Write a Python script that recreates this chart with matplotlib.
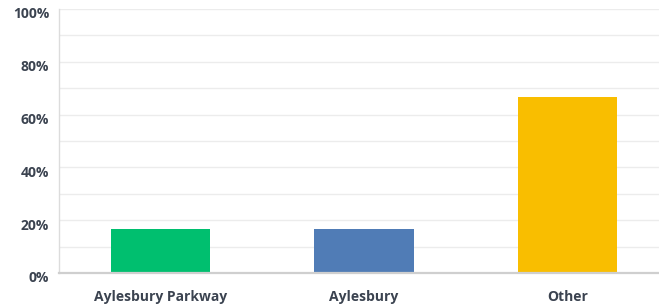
import matplotlib.pyplot as plt
import matplotlib.transforms as mtransforms
from matplotlib.ticker import MultipleLocator, FuncFormatter

categories = ['Aylesbury Parkway', 'Aylesbury', 'Other']
shares = [16.67, 16.67, 66.67]
colors = ['#00bf6f', '#507cb6', '#f9be00']
y_ticks = [0, 20, 40, 60, 80, 100]

plt.rcParams['font.family'] = ['Open Sans', 'DejaVu Sans']

fig = plt.figure(figsize=(6.59, 3.07), dpi=100)
ax = fig.add_axes([59 / 659, 34 / 307, 610 / 659, 264 / 307])

x = range(len(categories))
ax.bar(x, shares, width=0.49, color=colors, zorder=3)

ax.set_xlim(-0.5, len(categories) - 0.5)
ax.set_ylim(0, 100)
ax.set_yticks(y_ticks)
ax.yaxis.set_minor_locator(MultipleLocator(10))
ax.yaxis.set_major_formatter(FuncFormatter(lambda v, p: f'{v:.0f}%'))
ax.grid(axis='y', which='both', color='#ececec', linewidth=1, zorder=0)

ax.set_xticks(list(x))
ax.set_xticklabels(categories)
ax.tick_params(axis='both', which='both', length=0, labelsize=10, labelcolor='#3b4350')
ax.tick_params(axis='x', pad=12)
ax.tick_params(axis='y', pad=7)
for lbl in ax.get_xticklabels() + ax.get_yticklabels():
    lbl.set_fontweight('bold')

# y labels sit a little below their gridlines in the original
shift = mtransforms.ScaledTranslation(0, -4 / 100, fig.dpi_scale_trans)
for lbl in ax.get_yticklabels():
    lbl.set_transform(lbl.get_transform() + shift)

for side in ['top', 'right']:
    ax.spines[side].set_visible(False)
ax.spines['left'].set_color('#dcdcdc')
ax.spines['left'].set_linewidth(1)
ax.spines['bottom'].set_color('#cfcfcf')
ax.spines['bottom'].set_linewidth(1.6)
ax.spines['bottom'].set_zorder(4)

fig.savefig('out.png', dpi=100)
